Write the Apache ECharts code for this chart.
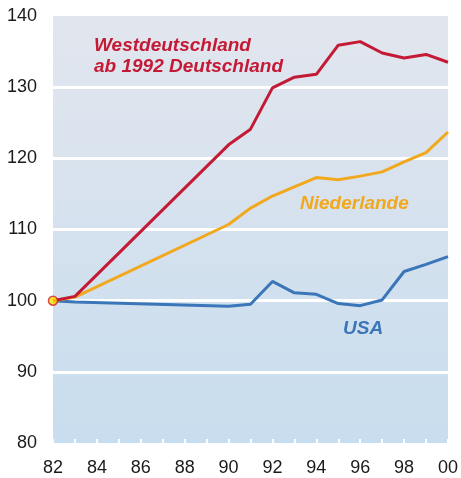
<!DOCTYPE html>
<html>
<head>
    <meta charset="UTF-8">
    <title></title>
    <script type="text/javascript" src="https://cdn.jsdelivr.net/npm/echarts@6/dist/echarts.min.js"></script>
    <style>
        body { margin: 0; background: #fff; }
    </style>
</head>
<body>
<div id="main" style="width: 461px;height:478px;"></div>
<script type="text/javascript">
    // Jahre (82 = 1982, 100 = 2000), 84-89 fehlen in der Vorlage
    var years = [82, 83, 90, 91, 92, 93, 94, 95, 96, 97, 98, 99, 100];
    var deutschland = [100, 100.6, 121.9, 124.1, 129.9, 131.4, 131.8, 135.9, 136.4, 134.8, 134.1, 134.6, 133.5];
    var niederlande = [100, 100.5, 110.7, 113.0, 114.7, 116.0, 117.3, 117.0, 117.5, 118.1, 119.5, 120.8, 123.7];
    var usa = [100, 99.8, 99.2, 99.5, 102.7, 101.1, 100.9, 99.6, 99.3, 100.1, 104.1, 105.1, 106.2];
    var yTicks = [80, 90, 100, 110, 120, 130, 140];

    function pairs(vals) {
        var out = [];
        for (var i = 0; i < years.length; i++) {
            out.push([years[i], vals[i]]);
        }
        return out;
    }

    var myChart = echarts.init(document.getElementById('main'));

    var labelFont = {
        fontFamily: 'Liberation Sans',
        fontSize: 19,
        fontStyle: 'italic',
        fontWeight: 'bold'
    };

    option = {
        animation: false,
        grid: {
            left: 53,
            right: 12,
            top: 16,
            bottom: 35,
            show: true,
            borderWidth: 0,
            backgroundColor: new echarts.graphic.LinearGradient(0, 0, 0, 1, [
                {offset: 0, color: '#e2e6ee'},
                {offset: 1, color: '#c8ddee'}
            ])
        },
        xAxis: {
            type: 'value',
            min: 82,
            max: 100,
            interval: 1,
            axisLine: {show: false},
            axisTick: {
                show: true,
                inside: true,
                length: 4,
                lineStyle: {color: '#ffffff', width: 2}
            },
            axisLabel: {
                margin: 16,
                color: '#1a1a1a',
                fontFamily: 'Liberation Sans',
                fontSize: 18,
                formatter: function (v) {
                    if (v % 2 !== 0) return '';
                    var s = String(v % 100);
                    return s.length < 2 ? '0' + s : s;
                }
            },
            splitLine: {show: false}
        },
        yAxis: {
            type: 'value',
            min: yTicks[0],
            max: yTicks[yTicks.length - 1],
            interval: 10,
            axisLine: {show: false},
            axisTick: {show: false},
            axisLabel: {
                margin: 16,
                color: '#1a1a1a',
                fontFamily: 'Liberation Sans',
                fontSize: 18
            },
            splitLine: {
                show: true,
                showMinLine: false,
                showMaxLine: false,
                lineStyle: {color: '#ffffff', width: 3}
            }
        },
        series: [
            {
                name: 'USA',
                type: 'line',
                data: pairs(usa),
                showSymbol: false,
                lineStyle: {color: '#3b76b8', width: 3},
                z: 3
            },
            {
                name: 'Niederlande',
                type: 'line',
                data: pairs(niederlande),
                showSymbol: false,
                lineStyle: {color: '#f2a81d', width: 3},
                z: 4
            },
            {
                name: 'Deutschland',
                type: 'line',
                data: pairs(deutschland),
                showSymbol: false,
                lineStyle: {color: '#c41a35', width: 3},
                z: 5
            },
            {
                // Startpunkt 1982 = 100
                type: 'scatter',
                data: [[years[0], deutschland[0]]],
                symbolSize: 9,
                itemStyle: {color: '#ffe000', borderColor: '#d0202a', borderWidth: 1.5},
                z: 10
            }
        ],
        graphic: [
            {
                type: 'text',
                left: 94,
                top: 35,
                style: Object.assign({
                    text: 'Westdeutschland\nab 1992 Deutschland',
                    fill: '#c41a35',
                    lineHeight: 21
                }, labelFont)
            },
            {
                type: 'text',
                left: 300,
                top: 194,
                style: Object.assign({text: 'Niederlande', fill: '#f2a81d'}, labelFont)
            },
            {
                type: 'text',
                left: 343,
                top: 319,
                style: Object.assign({text: 'USA', fill: '#3b76b8'}, labelFont)
            }
        ]
    };

    myChart.setOption(option);
</script>
</body>
</html>
